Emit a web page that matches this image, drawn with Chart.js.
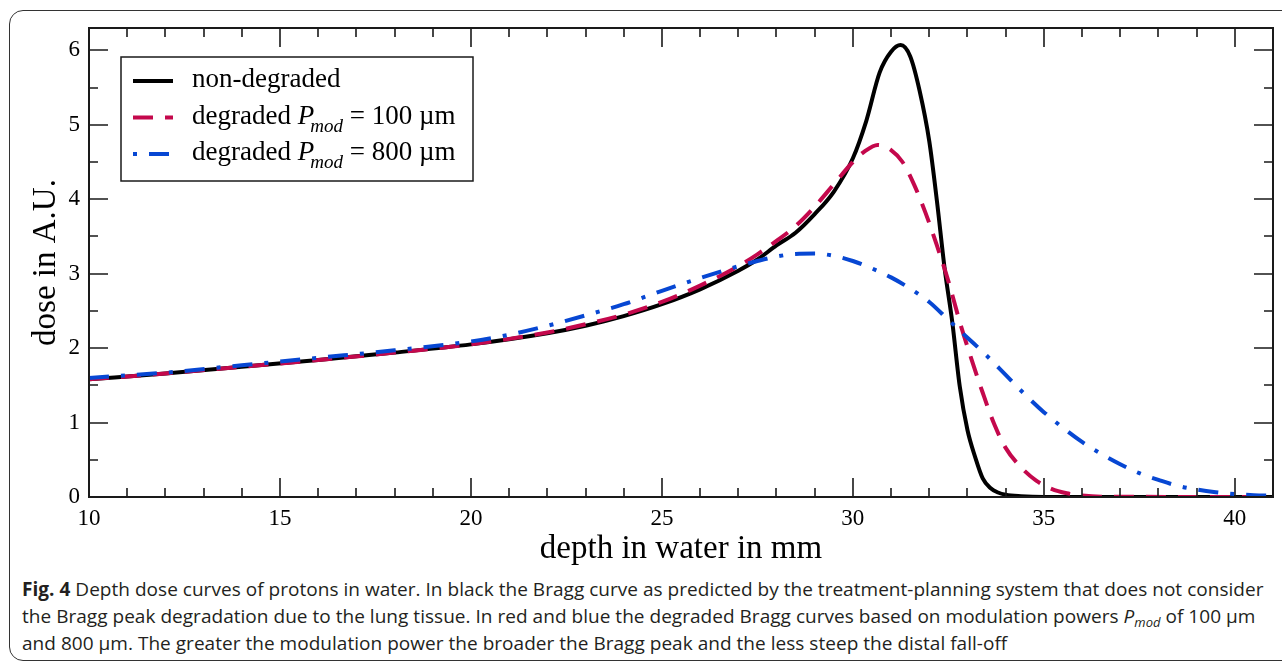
<!DOCTYPE html>
<html>
<head>
<meta charset="utf-8">
<script src="https://cdn.jsdelivr.net/npm/chart.js@4.4.1/dist/chart.umd.min.js"></script>
<style>
  html, body { margin: 0; padding: 0; background: #fff; }
  body { width: 1282px; height: 662px; position: relative; overflow: hidden; }
  .frame { position: absolute; left: 9px; top: 10px; width: 1300px; height: 649px;
           border: 1.5px solid #333; border-radius: 14px; }
  #plot { position: absolute; left: 0; top: 0; }
  .caption { position: absolute; left: 22px; top: 576px; white-space: nowrap;
             font-family: "Open Sans", sans-serif; font-size: 19px; line-height: 26.8px; color: #231f20;
             letter-spacing: 0.03px; }
  .caption sub { font-size: 13px; vertical-align: -4px; line-height: 0; }
</style>
</head>
<body>
<div class="frame"></div>
<canvas id="plot" width="1282" height="570"></canvas>
<div class="caption"><b>Fig. 4</b> Depth dose curves of protons in water. In black the Bragg curve as predicted by the treatment-planning system that does not consider<br>the Bragg peak degradation due to the lung tissue. In red and blue the degraded Bragg curves based on modulation powers <i>P</i><sub><i>mod</i></sub> of 100 µm<br>and 800 µm. The greater the modulation power the broader the Bragg peak and the less steep the distal fall-off</div>
<script>
// depth in water (mm) and dose (A.U.)
const depthNonDeg = [10, 12, 14, 16, 18, 20, 22, 23, 24, 25, 26, 27, 27.5, 28, 28.5, 29, 29.5, 30, 30.35, 30.7, 31.0, 31.25, 31.5, 31.75, 32.0, 32.2, 32.4, 32.6, 32.8, 33.0, 33.2, 33.4, 33.6, 33.8, 34.0, 34.4, 35, 41];
const doseNonDeg  = [1.58, 1.66, 1.75, 1.84, 1.94, 2.05, 2.20, 2.30, 2.43, 2.59, 2.79, 3.04, 3.19, 3.38, 3.55, 3.80, 4.10, 4.55, 5.05, 5.70, 5.98, 6.07, 5.92, 5.45, 4.78, 3.98, 3.08, 2.36, 1.48, 0.90, 0.54, 0.25, 0.12, 0.06, 0.03, 0.01, 0, 0];

const depthDeg100 = [10, 12, 14, 16, 18, 20, 22, 23, 24, 25, 26, 27, 27.5, 28, 28.5, 29, 29.5, 30, 30.3, 30.65, 31.0, 31.3, 31.6, 31.9, 32.2, 32.5, 32.8, 33.1, 33.4, 33.7, 34.0, 34.4, 34.8, 35.2, 35.6, 36.0, 36.5, 41];
const doseDeg100  = [1.58, 1.66, 1.75, 1.84, 1.94, 2.05, 2.21, 2.32, 2.45, 2.62, 2.84, 3.10, 3.26, 3.44, 3.64, 3.90, 4.20, 4.50, 4.64, 4.73, 4.66, 4.50, 4.20, 3.82, 3.38, 2.90, 2.35, 1.86, 1.40, 0.98, 0.66, 0.40, 0.22, 0.11, 0.05, 0.02, 0.005, 0];

const depthDeg800 = [10, 12, 14, 16, 18, 20, 21, 22, 23, 24, 25, 26, 27, 27.5, 28, 28.5, 29, 29.5, 30, 30.5, 31, 31.5, 32, 32.5, 33, 33.5, 34, 34.5, 35, 35.5, 36, 36.5, 37, 37.5, 38, 38.5, 39, 39.5, 40, 40.5, 41];
const doseDeg800  = [1.60, 1.67, 1.77, 1.87, 1.97, 2.09, 2.18, 2.30, 2.44, 2.59, 2.77, 2.94, 3.10, 3.17, 3.23, 3.265, 3.27, 3.24, 3.17, 3.07, 2.95, 2.80, 2.62, 2.38, 2.14, 1.90, 1.64, 1.38, 1.14, 0.93, 0.74, 0.58, 0.44, 0.32, 0.23, 0.15, 0.10, 0.065, 0.04, 0.025, 0.02];

// tick positions (all marks) and the ones that carry a label
const xTickValues = [10, 11, 12, 13, 14, 15, 16, 17, 18, 19, 20, 21, 22, 23, 24, 25, 26, 27, 28, 29, 30, 31, 32, 33, 34, 35, 36, 37, 38, 39, 40, 41];
const xTickLabels = [10, 15, 20, 25, 30, 35, 40];
const yTickValues = [0, 0.5, 1, 1.5, 2, 2.5, 3, 3.5, 4, 4.5, 5, 5.5, 6];
const yTickLabels = [0, 1, 2, 3, 4, 5, 6];

const serif = '"Liberation Serif", "Times New Roman", serif';
const ink = '#1a1a1a';

const toPoints = (xs, ys) => xs.map((x, i) => ({ x: x, y: ys[i] }));

const series = [
  { label: 'non-degraded', sub: null, rest: null, data: toPoints(depthNonDeg, doseNonDeg),
    color: '#000000', dash: [], dashOffset: 0, order: 3 },
  { label: 'degraded ', sub: 'mod', rest: ' = 100 µm', data: toPoints(depthDeg100, doseDeg100),
    color: '#c4084c', dash: [20, 12], dashOffset: 0, order: 2 },
  { label: 'degraded ', sub: 'mod', rest: ' = 800 µm', data: toPoints(depthDeg800, doseDeg800),
    color: '#0747d3', dash: [20, 12, 4, 12], dashOffset: 32, order: 1 },
];

// inward ticks on all four sides + plot frame
const frameTicks = {
  id: 'frameTicks',
  afterDraw(chart) {
    const { ctx, chartArea: a } = chart;
    const x = chart.scales.x, y = chart.scales.y;
    ctx.save();
    ctx.setLineDash([]);
    ctx.strokeStyle = ink;
    ctx.lineWidth = 1.6;
    for (const v of xTickValues) {
      const px = Math.round(x.getPixelForValue(v));
      const len = xTickLabels.includes(v) ? 19 : 9;
      ctx.beginPath();
      ctx.moveTo(px, a.bottom); ctx.lineTo(px, a.bottom - len);
      ctx.moveTo(px, a.top); ctx.lineTo(px, a.top + len);
      ctx.stroke();
    }
    for (const v of yTickValues) {
      const py = Math.round(y.getPixelForValue(v));
      const len = yTickLabels.includes(v) ? 19 : 9;
      ctx.beginPath();
      ctx.moveTo(a.left, py); ctx.lineTo(a.left + len, py);
      ctx.moveTo(a.right, py); ctx.lineTo(a.right - len, py);
      ctx.stroke();
    }
    ctx.lineWidth = 2;
    ctx.strokeRect(a.left, a.top, a.right - a.left, a.bottom - a.top);
    ctx.restore();
  }
};

// boxed legend with italic P and subscript "mod"
const boxLegend = {
  id: 'boxLegend',
  afterDraw(chart) {
    const { ctx, chartArea: a } = chart;
    const bx = a.left + 32, by = a.top + 29, bw = 352, bh = 124;
    ctx.save();
    ctx.fillStyle = '#fff';
    ctx.fillRect(bx, by, bw, bh);
    ctx.strokeStyle = ink;
    ctx.lineWidth = 1.5;
    ctx.strokeRect(bx, by, bw, bh);
    series.forEach((s, i) => {
      const base = by + 30 + i * 36.5;
      const ly = base - 6;
      ctx.strokeStyle = s.color;
      ctx.lineWidth = 4;
      ctx.setLineDash(s.dash);
      ctx.lineDashOffset = s.dashOffset;
      ctx.beginPath();
      ctx.moveTo(bx + 12, ly); ctx.lineTo(bx + 52, ly);
      ctx.stroke();
      ctx.setLineDash([]);
      ctx.fillStyle = '#000';
      ctx.textBaseline = 'alphabetic';
      let tx = bx + 71;
      ctx.font = '27px ' + serif;
      ctx.fillText(s.label, tx, base);
      if (s.sub) {
        tx += ctx.measureText(s.label).width;
        ctx.font = 'italic 27px ' + serif;
        ctx.fillText('P', tx, base);
        const pw = ctx.measureText('P').width;
        ctx.font = 'italic 19px ' + serif;
        ctx.fillText(s.sub, tx + pw - 4, base + 8);
        const sw = ctx.measureText(s.sub).width;
        ctx.font = '27px ' + serif;
        ctx.fillText(s.rest, tx + pw - 4 + sw, base);
      }
    });
    ctx.restore();
  }
};

new Chart(document.getElementById('plot'), {
  type: 'line',
  data: {
    datasets: series.map(s => ({
      label: s.label,
      data: s.data,
      borderColor: s.color,
      borderWidth: 4,
      borderDash: s.dash,
      borderCapStyle: 'butt',
      pointRadius: 0,
      fill: false,
      cubicInterpolationMode: 'monotone',
      order: s.order,
    })),
  },
  options: {
    responsive: false,
    animation: false,
    events: [],
    layout: { padding: { top: 28, right: 9, left: 0, bottom: 0 } },
    plugins: { legend: { display: false }, tooltip: { enabled: false } },
    scales: {
      x: {
        type: 'linear',
        min: 10, max: 41,
        afterBuildTicks: scale => { scale.ticks = xTickValues.map(v => ({ value: v })); },
        afterFit: scale => { scale.height = 73; },
        grid: { display: false, drawTicks: false },
        border: { display: false },
        ticks: {
          autoSkip: false, maxRotation: 0, padding: 8,
          color: '#000', font: { family: serif, size: 23 },
          callback: v => (xTickLabels.includes(v) ? String(v) : ''),
        },
        title: {
          display: true, text: 'depth in water in mm', color: '#000',
          font: { family: serif, size: 33, lineHeight: 1.2 },
          padding: { top: 0, bottom: 1 },
        },
      },
      y: {
        type: 'linear',
        min: 0, max: 6.3,
        afterBuildTicks: scale => { scale.ticks = yTickValues.map(v => ({ value: v })); },
        afterFit: scale => { scale.width = 89; },
        grid: { display: false, drawTicks: false },
        border: { display: false },
        ticks: {
          autoSkip: false, padding: 9,
          color: '#000', font: { family: serif, size: 23 },
          callback: v => (yTickLabels.includes(v) ? String(v) : ''),
        },
        title: {
          display: true, text: 'dose in A.U.', color: '#000',
          font: { family: serif, size: 33, lineHeight: 1.2 },
          padding: { top: 27, bottom: 0 },
        },
      },
    },
  },
  plugins: [frameTicks, boxLegend],
});
</script>
</body>
</html>
